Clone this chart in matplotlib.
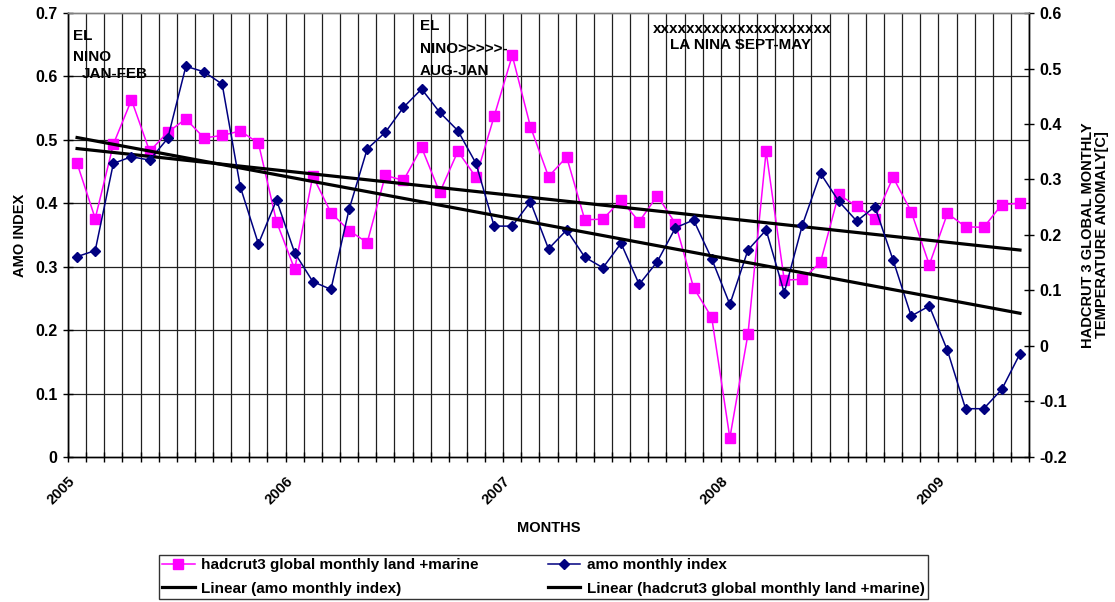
import numpy as np
import matplotlib
matplotlib.use("Agg")
import matplotlib.pyplot as plt
from matplotlib.ticker import FuncFormatter

plt.rcParams['font.family'] = ['Liberation Sans', 'DejaVu Sans']
plt.rcParams['font.weight'] = 'bold'
plt.rcParams['axes.labelweight'] = 'bold'

# monthly values, Jan 2005 - May 2009
hadcrut = [0.463, 0.376, 0.493, 0.563, 0.482, 0.512, 0.533, 0.503, 0.507, 0.514,
           0.495, 0.371, 0.296, 0.443, 0.385, 0.357, 0.338, 0.444, 0.436, 0.488,
           0.417, 0.482, 0.441, 0.537, 0.633, 0.521, 0.442, 0.473, 0.374, 0.375,
           0.405, 0.371, 0.412, 0.368, 0.267, 0.220, 0.030, 0.194, 0.482, 0.279,
           0.280, 0.307, 0.414, 0.395, 0.376, 0.441, 0.387, 0.303, 0.384, 0.363,
           0.362, 0.398, 0.400]
amo = [0.161, 0.172, 0.329, 0.341, 0.335, 0.374, 0.504, 0.494, 0.472, 0.287,
       0.184, 0.263, 0.168, 0.116, 0.102, 0.246, 0.355, 0.385, 0.430, 0.463,
       0.421, 0.388, 0.329, 0.216, 0.216, 0.260, 0.175, 0.209, 0.160, 0.141,
       0.185, 0.111, 0.152, 0.213, 0.227, 0.157, 0.075, 0.173, 0.209, 0.096,
       0.218, 0.311, 0.261, 0.225, 0.251, 0.155, 0.054, 0.072, -0.008, -0.113,
       -0.113, -0.078, -0.014]
years = ['2005', '2006', '2007', '2008', '2009']

n = len(hadcrut)
x = np.arange(n)

fig = plt.figure(figsize=(11.15, 6.02), dpi=100)
ax = fig.add_axes([0.061, 0.2409, 0.8619, 0.7375])
ax2 = ax.twinx()

grid_col = '#202020'
# vertical grid at every month boundary, horizontal at left major ticks
bounds = np.arange(-0.5, n + 0.5, 1)
for b in bounds:
    ax.axvline(b, color=grid_col, lw=0.9, zorder=0)
for v in np.arange(0.1, 0.7, 0.1):
    ax.axhline(v, color=grid_col, lw=0.9, zorder=0)

l1, = ax.plot(x, hadcrut, color='#FF00FF', lw=1.1, marker='s', ms=7,
              markeredgecolor='#FF00FF', zorder=3,
              label='hadcrut3 global monthly land +marine')
l2, = ax2.plot(x, amo, color='#000080', lw=1.1, marker='D', ms=5.5,
               markeredgecolor='#000080', zorder=3, label='amo monthly index')

# linear trend lines
p_amo = np.polyfit(x, amo, 1)
p_had = np.polyfit(x, hadcrut, 1)
t1, = ax2.plot(x[[0, -1]], np.polyval(p_amo, x[[0, -1]]), color='black', lw=2.3,
               zorder=4, label='Linear (amo monthly index)')
t2, = ax.plot(x[[0, -1]], np.polyval(p_had, x[[0, -1]]), color='black', lw=2.3,
              zorder=4, label='Linear (hadcrut3 global monthly land +marine)')

ax.set_xlim(-0.5, n - 0.5)
ax.set_ylim(0, 0.7)
ax2.set_ylim(-0.2, 0.6)
ax.set_yticks(np.arange(0, 0.71, 0.1))
ax2.set_yticks(np.arange(-0.2, 0.61, 0.1))
fmt = FuncFormatter(lambda v, p: '%g' % round(v, 2))
ax.yaxis.set_major_formatter(fmt)
ax2.yaxis.set_major_formatter(fmt)

ax.set_xticks(bounds)
ax.set_xticklabels([years[i // 12] if i % 12 == 0 and i // 12 < len(years) else ''
                    for i in range(len(bounds))],
                   rotation=45, ha='right', rotation_mode='anchor')
ax.tick_params(axis='x', direction='inout', length=7, width=1, pad=9, labelsize=10.5)
ax.tick_params(axis='y', direction='inout', length=7, width=1, pad=4, labelsize=11.5)
ax2.tick_params(axis='y', direction='inout', length=7, width=1, pad=4, labelsize=11.5)

for a in (ax, ax2):
    for s in a.spines.values():
        s.set_linewidth(1)
        s.set_color('black')
ax.spines['top'].set_color('#808080')
ax2.spines['top'].set_color('#808080')

ax.set_xlabel('MONTHS', fontsize=10.5, labelpad=10)
ax.set_ylabel('AMO INDEX', fontsize=10.5, labelpad=6)
ax2.set_ylabel('HADCRUT 3 GLOBAL MONTHLY\nTEMPERATURE ANOMALY[C]', fontsize=10.5,
               labelpad=10, linespacing=1.0)

# annotations
txt = dict(fontsize=11, va='top', ha='left', zorder=5)
ax.text(-0.22, 0.675, 'EL', **txt)
ax.text(-0.22, 0.642, 'NINO', **txt)
ax.text(0.27, 0.615, 'JAN-FEB', **txt)
ax.text(18.9, 0.690, 'EL', **txt)
ax.text(18.9, 0.655, 'NINO>>>>>-', **txt)
ax.text(18.9, 0.619, 'AUG-JAN', **txt)
ax.text(31.77, 0.686, 'x' * 21, fontsize=11, va='top', ha='left')
ax.text(32.7, 0.661, 'LA NINA SEPT-MAY', **txt)

leg = fig.legend([l1, t1, l2, t2],
                 [h.get_label() for h in (l1, t1, l2, t2)],
                 ncol=2, loc='center', bbox_to_anchor=(0.4874, 0.0415),
                 bbox_transform=fig.transFigure, fontsize=11, frameon=True,
                 fancybox=False, edgecolor='black', numpoints=1,
                 handlelength=2.1, handletextpad=0.4, columnspacing=4.6,
                 labelspacing=0.6, borderpad=0.25, borderaxespad=0)
leg.get_frame().set_linewidth(1)

fig.savefig('out.png', dpi=100)
